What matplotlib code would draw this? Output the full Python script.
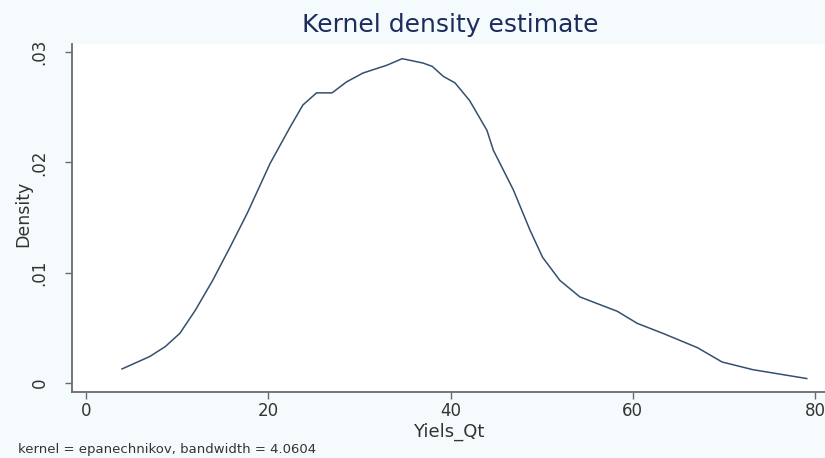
import matplotlib
matplotlib.use("Agg")
import matplotlib.pyplot as plt

x_vals = [3.95, 7.0, 8.7, 10.3, 12.0, 13.9, 15.8, 17.7, 20.2, 22.4, 23.8, 25.3, 27.0,
          28.6, 30.4, 33.0, 34.7, 37.0, 38.0, 39.2, 40.5, 42.1, 44.0, 44.7, 46.9,
          48.7, 50.1, 52.0, 54.2, 56.4, 58.3, 60.5, 63.3, 67.1, 69.8, 73.2, 79.1]
density = [0.00127, 0.0024, 0.0033, 0.0045, 0.0066, 0.0093, 0.0123, 0.0154, 0.0199,
           0.0232, 0.0252, 0.0263, 0.0263, 0.0273, 0.0281, 0.0288, 0.0294, 0.0290,
           0.0287, 0.0278, 0.0272, 0.0256, 0.0229, 0.0211, 0.0175, 0.0139, 0.0114,
           0.0093, 0.0078, 0.0071, 0.0065, 0.0054, 0.0045, 0.0032, 0.0019,
           0.0012, 0.0004]
x_ticks = [0, 20, 40, 60, 80]
y_ticks = [0, 0.01, 0.02, 0.03]
y_ticklabels = ["0", ".01", ".02", ".03"]

plt.rcParams["font.family"] = ["DejaVu Sans"]
bg = "#f5fbfd"
fig = plt.figure(figsize=(8.25, 4.58), dpi=100, facecolor=bg)
ax = fig.add_axes([72/825, 1 - 392/458, 1 - 72/825, (392 - 44)/458])
ax.set_facecolor("white")
ax.plot(x_vals, density, color="#34506e", lw=1.1)
ax.set_xlim(-1.54, 81.1)
ax.set_ylim(-0.00082, 0.03073)
ax.set_xticks(x_ticks)
ax.set_xticklabels([str(t) for t in x_ticks], fontsize=12)
ax.set_yticks(y_ticks)
ax.set_yticklabels(y_ticklabels, fontsize=12, rotation=90, va="center")
for s in ["top", "right"]:
    ax.spines[s].set_visible(False)
for s in ["left", "bottom"]:
    ax.spines[s].set_color("#6a6a6a")
    ax.spines[s].set_linewidth(1.3)
ax.tick_params(axis="both", colors="#6a6a6a", length=5, width=1, labelcolor="#333333")
ax.tick_params(axis="y", pad=12)
ax.tick_params(axis="x", pad=2)

fig.text(450/825, 1 - 25/458, "Kernel density estimate", ha="center", va="center",
         fontsize=18, color="#1c2c5c")
fig.text(23/825, 1 - 214/458, "Density", ha="center", va="center", rotation=90,
         fontsize=12.5, color="#333333")
fig.text(449/825, 1 - 432/458, "Yiels_Qt", ha="center", va="center",
         fontsize=13, color="#333333")
fig.text(18/825, 1 - 449.5/458, "kernel = epanechnikov, bandwidth = 4.0604", ha="left",
         va="center", fontsize=9.5, color="#333333")

fig.savefig("out.png", dpi=100, facecolor=bg)
